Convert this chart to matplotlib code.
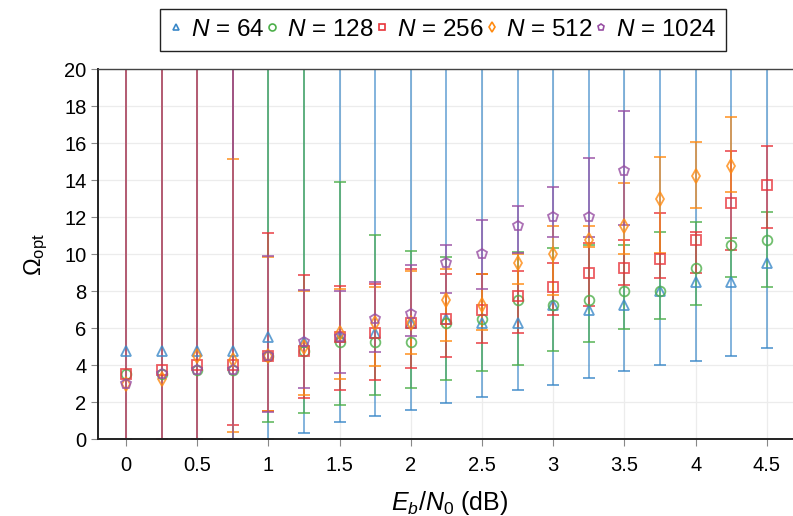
import numpy as np
import matplotlib.pyplot as plt
from matplotlib.lines import Line2D

plt.rcParams['font.family'] = ['Liberation Sans', 'DejaVu Sans']
plt.rcParams['mathtext.fontset'] = 'custom'
plt.rcParams['mathtext.rm'] = 'Liberation Sans'
plt.rcParams['mathtext.it'] = 'Liberation Sans:italic'
plt.rcParams['mathtext.bf'] = 'Liberation Sans:bold'

# Eb/N0 grid (dB)
ebn0 = [0, 0.25, 0.5, 0.75, 1.0, 1.25, 1.5, 1.75, 2.0, 2.25, 2.5, 2.75,
        3.0, 3.25, 3.5, 3.75, 4.0, 4.25, 4.5]
xticks = [0, 0.5, 1, 1.5, 2, 2.5, 3, 3.5, 4, 4.5]
xticklabels = ['0', '0.5', '1', '1.5', '2', '2.5', '3', '3.5', '4', '4.5']

# optimal Omega per block length, with lower / upper range
om_64 = [4.75, 4.75, 4.75, 4.75, 5.5, 5.25, 5.5, 5.75, 6.25, 6.5, 6.25, 6.25,
         7.25, 7.0, 7.25, 8.0, 8.5, 8.5, 9.5]
lo_64 = [0, 0, 0, 0, 0, 0.34, 0.9, 1.24, 1.6, 1.93, 2.29, 2.65,
         2.92, 3.32, 3.66, 4.0, 4.23, 4.49, 4.94]
hi_64 = [30] * 19

om_128 = [3.5, 3.5, 3.75, 3.75, 4.5, 4.75, 5.25, 5.25, 5.25, 6.25, 6.5, 7.5,
          7.25, 7.5, 8.0, 8.0, 9.25, 10.5, 10.75]
lo_128 = [0, 0, 0, 0, 0.9, 1.39, 1.87, 2.38, 2.79, 3.21, 3.69, 4.03,
          4.76, 5.26, 5.93, 6.52, 7.26, 8.77, 8.22]
hi_128 = [30, 30, 30, 30, 30, 30, 13.9, 11.06, 10.18, 9.86, 8.9, 10.1,
          10.34, 10.5, 10.49, 11.2, 11.74, 10.85, 12.29]

om_256 = [3.5, 3.75, 4.0, 4.0, 4.5, 4.75, 5.5, 5.75, 6.25, 6.5, 7.0, 7.75,
          8.25, 9.0, 9.25, 9.75, 10.75, 12.75, 13.75]
lo_256 = [0, 0, 0, 0.76, 1.5, 2.2, 2.65, 3.19, 3.82, 4.42, 5.21, 5.76,
          6.7, 7.2, 8.33, 8.72, 9.0, 10.22, 11.42]
hi_256 = [30, 30, 30, 30, 11.15, 8.86, 8.29, 8.4, 9.22, 8.9, 8.94, 9.1,
          9.53, 10.6, 10.76, 12.2, 11.17, 15.57, 15.82]

om_512 = [3.0, 3.25, 4.5, 4.25, 4.5, 5.0, 5.75, 6.25, 6.25, 7.5, 7.25, 9.5,
          10.0, 10.75, 11.5, 13.0, 14.25, 14.75]
lo_512 = [0, 0, 0, 0.36, 1.5, 2.38, 3.24, 3.96, 4.61, 5.3, 5.9, 8.4,
          7.78, 10.4, 10.0, 10.07, 12.5, 13.35]
hi_512 = [30, 30, 30, 15.15, 9.83, 8.0, 8.1, 8.2, 9.1, 9.17, 8.9, 10.0,
          11.53, 11.5, 13.86, 15.23, 16.06, 17.39]

om_1024 = [3.0, 3.5, 3.75, 3.75, 4.5, 5.25, 5.5, 6.5, 6.75, 9.5, 10.0, 11.5,
           12.0, 12.0, 14.5]
lo_1024 = [0, 0, 0, 0, 1.48, 2.79, 3.6, 4.72, 5.59, 7.9, 8.1, 10.05,
           10.9, 10.94, 11.6]
hi_1024 = [30, 30, 30, 30, 9.91, 8.04, 8.0, 8.5, 9.39, 10.5, 11.87, 12.6,
           13.64, 15.2, 17.75]

series = [
    ('$N$ = 64', om_64, lo_64, hi_64, '#3a88c8', '^'),
    ('$N$ = 128', om_128, lo_128, hi_128, '#4daf4a', 'o'),
    ('$N$ = 256', om_256, lo_256, hi_256, '#e8333a', 's'),
    ('$N$ = 512', om_512, lo_512, hi_512, '#ff8a10', 'd'),
    ('$N$ = 1024', om_1024, lo_1024, hi_1024, '#984ea3', 'p'),
]

fig = plt.figure(figsize=(7.93, 5.16), dpi=100)
ax = fig.add_axes([0.123, 0.149, 0.889, 0.717])

handles = []
for label, om, lo, hi, col, mk in series:
    om = np.array(om)
    x = np.array(ebn0[:len(om)])
    err = [om - np.array(lo), np.array(hi) - om]
    ax.errorbar(x, om, yerr=err, fmt=mk, color=col, mfc='none', mec=col,
                ms=7, mew=1.3, elinewidth=1.1, capsize=4, capthick=1.1,
                alpha=0.8)
    handles.append(Line2D([], [], ls='none', marker=mk, mfc='none', mec=col,
                          ms=5, mew=1.2, label=label))

ax.set_xlim(-0.2, 4.75)
ax.set_ylim(0, 20)
ax.set_xticks(xticks)
ax.set_xticklabels(xticklabels)
ax.set_yticks(np.arange(0, 21, 2))
ax.tick_params(labelsize=14.5, direction='out', length=5, color='#888888')
ax.tick_params(axis='x', pad=7)
ax.tick_params(axis='y', pad=3)
ax.grid(True, color='#ececec', linewidth=0.9)
ax.set_axisbelow(True)

for s in ['left', 'bottom']:
    ax.spines[s].set_color('#222222')
    ax.spines[s].set_linewidth(1.4)
ax.spines['top'].set_color('#444444')
ax.spines['top'].set_linewidth(1.0)
ax.spines['right'].set_visible(False)

ax.set_xlabel('$E_b/N_0$ (dB)', fontsize=18, labelpad=10)
ax.set_ylabel(r'$\Omega_{\mathrm{opt}}$', fontsize=17, labelpad=10)

leg = ax.legend(handles=handles, loc='lower center',
                bbox_to_anchor=(0.49, 1.05), ncol=5, fontsize=17.5,
                frameon=True, fancybox=False, framealpha=1,
                edgecolor='#222222', handlelength=0.5, handletextpad=0.35,
                columnspacing=0.1, borderpad=0.4, borderaxespad=0)
leg.get_frame().set_linewidth(1.0)

fig.savefig('out.png', dpi=100)
